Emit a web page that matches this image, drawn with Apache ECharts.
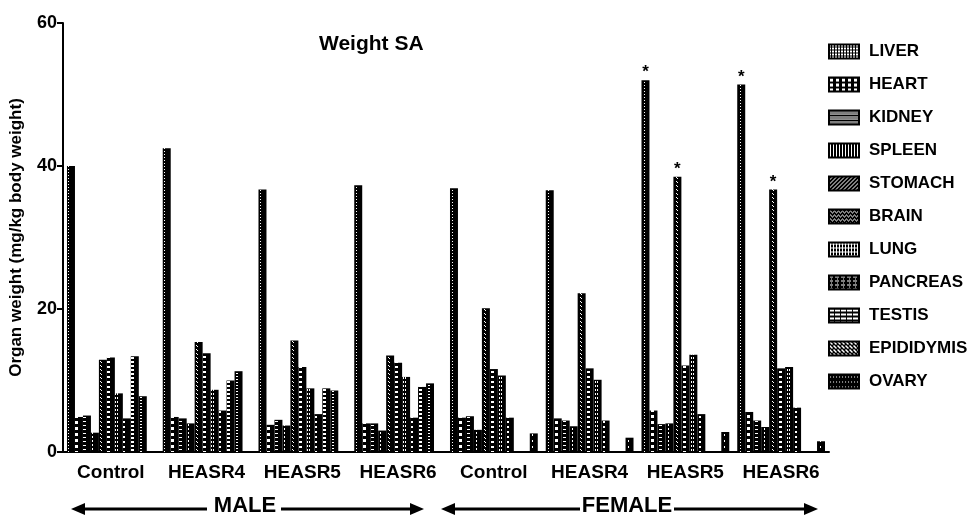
<!DOCTYPE html>
<html>
<head>
<meta charset="utf-8">
<script src="https://cdn.jsdelivr.net/npm/echarts@6/dist/echarts.min.js"></script>
<style>
  html, body { margin: 0; padding: 0; background: #fff; }
  #chart { width: 971px; height: 515px; }
</style>
</head>
<body>
<div id="chart"></div>
<script>
// Organ weight (mg/kg body weight) per treatment group, male groups first then female.
const groups = ['Control', 'HEASR4', 'HEASR5', 'HEASR6', 'Control', 'HEASR4', 'HEASR5', 'HEASR6'];
const organs = ['LIVER', 'HEART', 'KIDNEY', 'SPLEEN', 'STOMACH', 'BRAIN', 'LUNG', 'PANCREAS', 'TESTIS', 'EPIDIDYMIS', 'OVARY'];

const liver      = [40.0, 42.5, 36.7, 37.3, 36.9, 36.6, 52.0, 51.4];
const heart      = [4.9, 4.9, 3.8, 4.0, 4.8, 4.7, 5.8, 5.6];
const kidney     = [5.1, 4.7, 4.5, 4.0, 5.0, 4.4, 3.9, 4.4];
const spleen     = [2.7, 4.0, 3.7, 3.0, 3.1, 3.6, 4.0, 3.5];
const stomach    = [12.9, 15.4, 15.6, 13.5, 20.1, 22.2, 38.5, 36.7];
const brain      = [13.2, 13.8, 11.9, 12.5, 11.6, 11.7, 12.1, 11.7];
const lung       = [8.2, 8.7, 8.9, 10.5, 10.7, 10.1, 13.6, 11.9];
const pancreas   = [4.7, 5.8, 5.3, 4.8, 4.8, 4.4, 5.3, 6.2];
const testis     = [13.4, 10.0, 8.9, 9.1, null, null, null, null];
const epididymis = [7.8, 11.3, 8.6, 9.6, null, null, null, null];
const ovary      = [null, null, null, null, 2.6, 2.0, 2.8, 1.5];

// Group indices marked significant (*) for each organ.
const significant = { LIVER: [6, 7], STOMACH: [6, 7] };

const yTicks = [0, 20, 40, 60];

const values = [liver, heart, kidney, spleen, stomach, brain, lung, pancreas, testis, epididymis, ovary];

// Small black tiles with white marks used as bar fills.
function tile(w, h, marks) {
  const c = document.createElement('canvas');
  c.width = w; c.height = h;
  const ctx = c.getContext('2d');
  ctx.fillStyle = '#000';
  ctx.fillRect(0, 0, w, h);
  ctx.fillStyle = '#fff';
  marks.forEach(m => ctx.fillRect(m[0], m[1], m[2], m[3]));
  return { image: c, repeat: 'repeat' };
}

// Bar fills: 8px wide tiles, white marks down the middle of each bar.
const barFills = [
  tile(8, 3, [[4, 1, 1, 1]]),                 // liver
  tile(8, 6, [[3, 1, 3, 3]]),                 // heart
  tile(8, 4, [[3, 1, 3, 1]]),                 // kidney
  tile(8, 4, [[4, 0, 1, 2]]),                 // spleen
  tile(8, 4, [[4, 1, 1, 1], [5, 2, 1, 1]]),   // stomach
  tile(8, 5, [[3, 1, 3, 2]]),                 // brain
  tile(8, 4, [[3, 1, 1, 2], [5, 1, 1, 2]]),   // lung
  tile(8, 5, [[3, 1, 2, 2]]),                 // pancreas
  tile(8, 4, [[3, 1, 3, 2]]),                 // testis
  tile(8, 3, [[4, 1, 2, 1]]),                 // epididymis
  tile(8, 6, [[4, 2, 1, 2]])                  // ovary
];

// Legend swatch fills.
const legendFills = [
  tile(3, 3, [[0, 0, 2, 2]]),
  tile(6, 5, [[1, 1, 3, 3]]),
  tile(4, 5, [[0, 1, 4, 1], [0, 3, 4, 1]]),
  tile(3, 4, [[1, 0, 1, 4]]),
  tile(4, 4, [[0, 3, 1, 1], [1, 2, 1, 1], [2, 1, 1, 1], [3, 0, 1, 1]]),
  tile(4, 4, [[0, 2, 1, 1], [1, 1, 1, 1], [2, 2, 1, 1], [3, 3, 1, 1]]),
  tile(3, 4, [[0, 1, 3, 1], [1, 0, 1, 4]]),
  tile(6, 4, [[0, 1, 4, 1], [2, 3, 1, 1]]),
  tile(6, 4, [[0, 1, 5, 2]]),
  tile(4, 4, [[0, 0, 2, 1], [2, 2, 2, 1], [1, 1, 2, 1]]),
  tile(6, 5, [[1, 2, 1, 1], [4, 2, 1, 1]])
];

const font = '"Liberation Sans", Arial, Helvetica, sans-serif';

const series = organs.map((name, i) => ({
  name,
  type: 'bar',
  barGap: '0%',
  barCategoryGap: (8 / 96 * 100) + '%',
  itemStyle: { color: barFills[i] },
  data: values[i].map((v, g) => {
    const marked = (significant[name] || []).indexOf(g) >= 0;
    if (!marked) return v;
    return {
      value: v,
      label: {
        show: true, position: 'top', distance: -1, formatter: '*',
        color: '#000', fontFamily: font, fontWeight: 'bold', fontSize: 17
      }
    };
  })
}));

const chart = echarts.init(document.getElementById('chart'), null, { renderer: 'canvas' });

chart.setOption({
  animation: false,
  backgroundColor: '#fff',
  title: {
    text: 'Weight SA',
    left: 314, top: 29,
    textStyle: { fontFamily: font, fontWeight: 'bold', fontSize: 21, color: '#000' }
  },
  legend: {
    orient: 'vertical',
    left: 823, top: 38,
    itemWidth: 30, itemHeight: 14, itemGap: 16,
    icon: 'rect',
    textStyle: { fontFamily: font, fontWeight: 'bold', fontSize: 17, color: '#000', padding: [0, 0, 0, 5] },
    data: organs.map((name, i) => ({
      name,
      itemStyle: { color: legendFills[i], borderColor: '#000', borderWidth: 2 }
    }))
  },
  grid: { left: 61, top: 23, width: 768, bottom: 63, containLabel: false },
  xAxis: {
    type: 'category',
    data: groups,
    axisLine: { lineStyle: { color: '#000', width: 2 } },
    axisTick: { alignWithLabel: true, length: 6, lineStyle: { color: '#000', width: 2 } },
    axisLabel: { interval: 0, margin: 11, color: '#000', fontFamily: font, fontWeight: 'bold', fontSize: 19 }
  },
  yAxis: {
    type: 'value',
    min: yTicks[0], max: yTicks[yTicks.length - 1], interval: yTicks[1] - yTicks[0],
    name: 'Organ weight (mg/kg body weight)',
    nameLocation: 'middle', nameRotate: 90, nameGap: 38,
    nameTextStyle: { fontFamily: font, fontWeight: 'bold', fontSize: 17, color: '#000' },
    axisLine: { show: true, lineStyle: { color: '#000', width: 2 } },
    axisTick: { show: true, length: 6, lineStyle: { color: '#000', width: 2 } },
    axisLabel: { margin: 6, color: '#000', fontFamily: font, fontWeight: 'bold', fontSize: 18 },
    splitLine: { show: false }
  },
  series,
  graphic: [
    // MALE arrow
    { type: 'line', shape: { x1: 80, y1: 509, x2: 207, y2: 509 }, style: { stroke: '#000', lineWidth: 3 } },
    { type: 'line', shape: { x1: 281, y1: 509, x2: 414, y2: 509 }, style: { stroke: '#000', lineWidth: 3 } },
    { type: 'polygon', shape: { points: [[71, 509], [85, 503], [85, 515]] }, style: { fill: '#000' } },
    { type: 'polygon', shape: { points: [[424, 509], [410, 503], [410, 515]] }, style: { fill: '#000' } },
    { type: 'text', x: 245, y: 506, style: { text: 'MALE', fill: '#000', font: 'bold 22px ' + font, align: 'center', verticalAlign: 'middle' } },
    // FEMALE arrow
    { type: 'line', shape: { x1: 450, y1: 509, x2: 580, y2: 509 }, style: { stroke: '#000', lineWidth: 3 } },
    { type: 'line', shape: { x1: 674, y1: 509, x2: 808, y2: 509 }, style: { stroke: '#000', lineWidth: 3 } },
    { type: 'polygon', shape: { points: [[441, 509], [455, 503], [455, 515]] }, style: { fill: '#000' } },
    { type: 'polygon', shape: { points: [[818, 509], [804, 503], [804, 515]] }, style: { fill: '#000' } },
    { type: 'text', x: 627, y: 506, style: { text: 'FEMALE', fill: '#000', font: 'bold 22px ' + font, align: 'center', verticalAlign: 'middle' } }
  ]
});
</script>
</body>
</html>
